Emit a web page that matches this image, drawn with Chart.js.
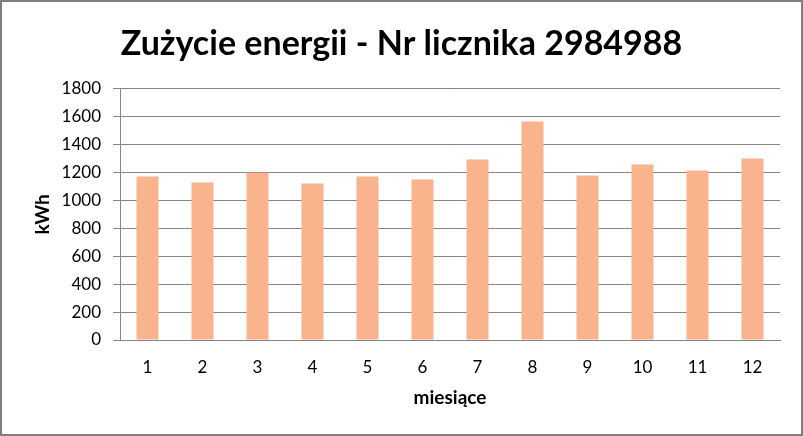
<!DOCTYPE html>
<html>
<head>
<meta charset="utf-8">
<script src="https://cdn.jsdelivr.net/npm/chart.js@4/dist/chart.umd.min.js"></script>
<style>
  html, body { margin: 0; padding: 0; background: #fff; }
  #wrap { width: 803px; height: 436px; }
</style>
</head>
<body>
<div id="wrap"><canvas id="myChart" width="803" height="436"></canvas></div>
<script>
const months = ['1', '2', '3', '4', '5', '6', '7', '8', '9', '10', '11', '12'];
const usage = [1171, 1128, 1198, 1121, 1171, 1150, 1293, 1565, 1178, 1257, 1214, 1300];
const yTicks = [0, 200, 400, 600, 800, 1000, 1200, 1400, 1600, 1800];

const gridGray = '#868686';
const fontName = 'Lato, "Open Sans", sans-serif';

// gray frame round the whole picture
const frame = {
    id: 'frame',
    afterDraw(chart) {
        const ctx = chart.ctx;
        ctx.save();
        ctx.strokeStyle = '#7f7f7f';
        ctx.lineWidth = 2;
        ctx.strokeRect(1, 1, chart.width - 2, chart.height - 2);
        ctx.restore();
    }
};

const data = {
    labels: months,
    datasets: [{
        label: 'kWh',
        backgroundColor: '#F9B48E',
        data: usage,
        barPercentage: 0.4,
        categoryPercentage: 1.0
    }]
};

const config = {
    type: 'bar',
    data: data,
    plugins: [frame],
    options: {
        responsive: false,
        animation: false,
        layout: { padding: { left: 23, right: 23, top: 0, bottom: 0 } },
        plugins: {
            legend: { display: false },
            tooltip: { enabled: false },
            title: {
                display: true,
                text: 'Zużycie energii - Nr licznika 2984988',
                color: '#000',
                font: { family: fontName, size: 34, weight: 'bold', lineHeight: 1.2 },
                padding: { top: 24, bottom: 24 }
            }
        },
        scales: {
            x: {
                grid: { display: false, drawTicks: false },
                border: { display: true, color: gridGray, width: 1 },
                ticks: { color: '#000', font: { family: fontName, size: 17 }, padding: 17 },
                title: {
                    display: true,
                    text: 'miesiące',
                    color: '#000',
                    font: { family: fontName, size: 19, weight: 'bold' },
                    padding: { top: 8, bottom: 27 }
                },
                afterFit(scale) { scale.height = 96; }
            },
            y: {
                min: 0,
                max: 1800,
                afterBuildTicks(scale) {
                    scale.ticks = yTicks.map(v => ({ value: v }));
                },
                grid: { color: gridGray, lineWidth: 1, drawTicks: true, tickLength: 7 },
                border: { display: true, color: gridGray, width: 1 },
                ticks: {
                    color: '#000',
                    font: { family: fontName, size: 17 },
                    padding: 12,
                    callback: v => String(v)
                },
                title: {
                    display: true,
                    text: 'kWh',
                    color: '#000',
                    font: { family: fontName, size: 19, weight: 'bold' },
                    padding: { top: 8, bottom: 0 }
                },
                afterFit(scale) { scale.width = 97; }
            }
        }
    }
};

var myChart = new Chart(document.getElementById('myChart'), config);
</script>
</body>
</html>
